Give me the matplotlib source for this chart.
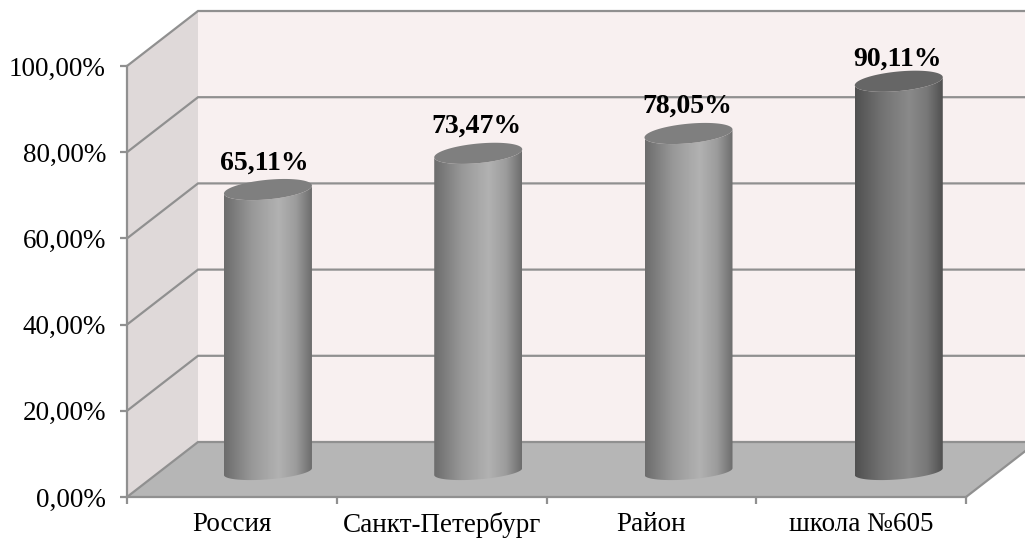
import numpy as np
import matplotlib
matplotlib.use("Agg")
import matplotlib.pyplot as plt
from matplotlib.patches import Polygon
from matplotlib.colors import LinearSegmentedColormap

categories = ["Россия", "Санкт-Петербург", "Район", "школа №605"]
values = [65.11, 73.47, 78.05, 90.11]
y_ticks = [0, 20, 40, 60, 80, 100]
y_tick_labels = ["0,00%", "20,00%", "40,00%", "60,00%", "80,00%", "100,00%"]
label_gap = [6.2, 6.3, 6.3, 5.1]
label_dx = [-0.017, -0.007, -0.007, -0.007]

W, H = 1025, 540
plt.rcParams["font.family"] = ["Liberation Serif", "DejaVu Serif"]
fig = plt.figure(figsize=(W / 100, H / 100), dpi=100, facecolor="white")
ax = fig.add_axes([127 / W, 1 - 497 / H, (966 - 127) / W, (497 - 66) / H])
ax.patch.set_visible(False)
ax.set_xlim(0, 4)
ax.set_ylim(0, 100)

LINE = "#909090"
LW = 1.6
DX, DY = 0.3385, 12.76   # oblique depth of the box in data units

wall = Polygon([(DX, DY), (4.4, DY), (4.4, 100 + DY), (DX, 100 + DY)],
               fc="#f8f0f0", ec="none", zorder=1, clip_on=False)
side = Polygon([(0, 0), (DX, DY), (DX, 100 + DY), (0, 100)],
               fc="#dfd9d9", ec="none", zorder=1, clip_on=False)
floor = Polygon([(0, 0), (4, 0), (4 + DX, DY), (DX, DY)],
                fc="#b6b6b6", ec="none", zorder=2, clip_on=False)
for p in (wall, side, floor):
    ax.add_patch(p)

for v in y_ticks:
    ax.plot([0, DX, 4.4], [v, v + DY, v + DY], color=LINE, lw=LW, zorder=3,
            clip_on=False, solid_joinstyle="miter")
ax.plot([4, 4 + DX], [0, DY], color=LINE, lw=LW, zorder=3, clip_on=False)

for s in ("top", "right"):
    ax.spines[s].set_visible(False)
for s in ("left", "bottom"):
    ax.spines[s].set_color(LINE)
    ax.spines[s].set_linewidth(LW)
    ax.spines[s].set_zorder(4)

ax.set_yticks(y_ticks)
ax.set_yticklabels(y_tick_labels, fontsize=19.5, color="black")
ax.tick_params(axis="y", length=5.2, width=LW, color=LINE, pad=10)
ax.set_xticks(range(5))
ax.set_xticklabels([])
ax.tick_params(axis="x", which="major", length=5.2, width=LW, color=LINE)
ax.set_xticks(np.arange(4) + 0.5, minor=True)
ax.set_xticklabels(categories, minor=True, fontsize=19.5, color="black")
ax.tick_params(axis="x", which="minor", length=0, pad=11)

RX = 44 / 209.75
RY_TOP, TILT_TOP = 9.8 / 4.31, 4.0 / 4.31
RY_BOT, TILT_BOT = 7.8 / 4.31, 3.4 / 4.31
X0 = 0.672
BASE = 5.9
STEP = 1.0025
BAR_SCALE = 1.005

light = LinearSegmentedColormap.from_list(
    "light", [(0, "#6c6c6c"), (0.30, "#969696"), (0.62, "#b2b2b2"),
              (0.82, "#9c9c9c"), (1, "#6c6c6c")])
dark = LinearSegmentedColormap.from_list(
    "dark", [(0, "#505050"), (0.30, "#727272"), (0.62, "#8a8a8a"),
             (0.82, "#787878"), (1, "#505050")])
cmaps = [light, light, light, dark]
tops = ["#7f7f7f", "#7f7f7f", "#7f7f7f", "#666666"]

grad = np.linspace(0, 1, 256).reshape(1, -1)
t = np.linspace(0, 2 * np.pi, 181)
for i, (val, cm, top) in enumerate(zip(values, cmaps, tops)):
    cx = X0 + i * STEP
    yb = BASE
    yt = BASE + val * BAR_SCALE
    tb = np.linspace(np.pi, 2 * np.pi, 91)
    xs = cx + RX * np.cos(tb)
    ys_b = yb + RY_BOT * np.sin(tb) + TILT_BOT * np.cos(tb)
    xt = cx + RX * np.cos(tb[::-1])
    ys_t = yt + RY_TOP * np.sin(tb[::-1]) + TILT_TOP * np.cos(tb[::-1])
    verts = np.column_stack([np.r_[xs, xt], np.r_[ys_b, ys_t]])
    body = Polygon(verts, closed=True, fc="none", ec="none")
    ax.add_patch(body)
    im = ax.imshow(grad, cmap=cm, vmin=0, vmax=1, aspect="auto",
                   extent=[cx - RX, cx + RX, yb - RY_BOT - 3, yt + RY_TOP + 3],
                   zorder=5, interpolation="bilinear")
    im.set_clip_path(body)
    ax.fill(cx + RX * np.cos(t), yt + RY_TOP * np.sin(t) + TILT_TOP * np.cos(t),
            fc=top, ec="none", zorder=6, clip_on=False)
    ax.text(cx + label_dx[i], yt + label_gap[i], f"{val:.2f}%".replace(".", ","),
            ha="center", va="center", fontsize=20, fontweight="bold",
            color="black", zorder=7, clip_on=False)

ax.set_xlim(0, 4)
ax.set_ylim(0, 100)
fig.savefig("out.png", dpi=100, facecolor="white")
